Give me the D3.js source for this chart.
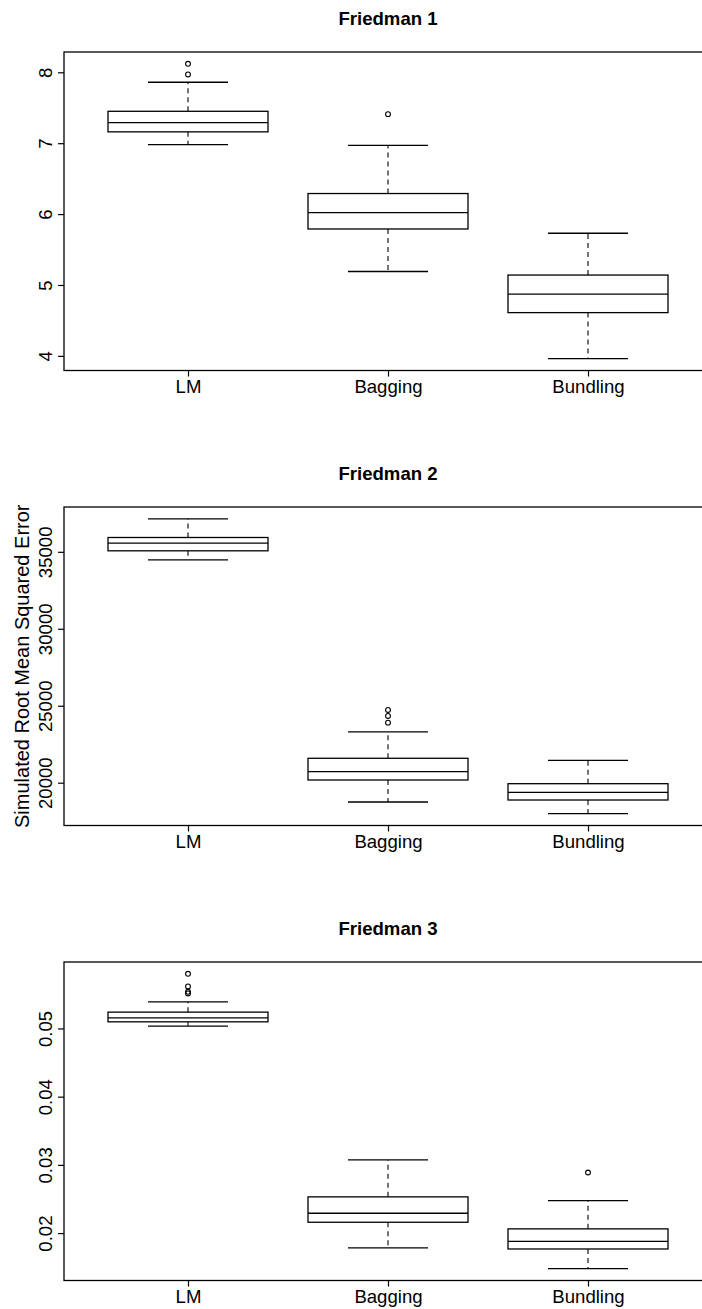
<!DOCTYPE html>
<html>
<head>
<meta charset="utf-8">
<script src="https://cdn.jsdelivr.net/npm/d3@7"></script>
<style>
  body { margin: 0; background: #fff; }
  svg { display: block; }
  text { font-family: "Liberation Sans", Arial, sans-serif; fill: #000; }
</style>
</head>
<body>
<div id="VizBox"></div>
<script>
// categories and titles
var groups = ["LM", "Bagging", "Bundling"];
var titles = ["Friedman 1", "Friedman 2", "Friedman 3"];

// box stats per group: [lower whisker, Q1, median, Q3, upper whisker]
var f1Stats = [[6.98, 7.16, 7.29, 7.45, 7.86], [5.19, 5.79, 6.02, 6.29, 6.97], [3.96, 4.61, 4.87, 5.14, 5.73]];
var f1Outliers = [[8.12, 7.97], [7.41], []];
var f1Ticks = [4, 5, 6, 7, 8];

var f2Stats = [[34480, 35065, 35565, 35930, 37145], [18745, 20175, 20715, 21586, 23295], [17985, 18875, 19376, 19935, 21456]];
var f2Outliers = [[], [24725, 24335, 23900], []];
var f2Ticks = [20000, 25000, 30000, 35000];

var f3Stats = [[0.05034, 0.05097, 0.05156, 0.05239, 0.0539], [0.01782, 0.02159, 0.02291, 0.02531, 0.03073], [0.01478, 0.01767, 0.0188, 0.02062, 0.02477]];
var f3Outliers = [[0.05801, 0.05616, 0.05537, 0.05513], [], [0.02888]];
var f3Ticks = [0.02, 0.03, 0.04, 0.05];

var yLabel = "Simulated Root Mean Squared Error";

var W = 702, H = 1309;
var fs = 18.6;
var plotLeft = 64, plotRight = 712;
var panelTops = [52, 507, 962];
var plotH = 318.5;

var svg = d3.select("#VizBox")
.append("svg")
  .attr("width", W)
  .attr("height", H);

// x positions 1..n, R style limits 0.5..n+0.5 extended 4%
var n = groups.length;
var x = d3.scaleLinear()
  .domain([0.5 - 0.04 * n, n + 0.5 + 0.04 * n])
  .range([plotLeft, plotRight]);
var boxW = x(1.4) - x(0.6);
var capW = boxW / 2;

var panels = [
  {stats: f1Stats, outliers: f1Outliers, ticks: f1Ticks},
  {stats: f2Stats, outliers: f2Outliers, ticks: f2Ticks},
  {stats: f3Stats, outliers: f3Outliers, ticks: f3Ticks}
];

panels.forEach(function(p, k) {
  var top = panelTops[k], bottom = top + plotH;
  var all = [];
  p.stats.forEach(function(s) { all = all.concat(s); });
  p.outliers.forEach(function(o) { all = all.concat(o); });
  var lo = d3.min(all), hi = d3.max(all), ext = (hi - lo) * 0.04;
  var y = d3.scaleLinear().domain([lo - ext, hi + ext]).range([bottom, top]);

  var g = svg.append("g");

  // title
  g.append("text")
    .attr("x", (plotLeft + plotRight) / 2)
    .attr("y", top - 27)
    .attr("text-anchor", "middle")
    .attr("font-weight", "bold")
    .attr("font-size", fs)
    .text(titles[k]);

  // frame
  g.append("rect")
    .attr("x", plotLeft).attr("y", top)
    .attr("width", plotRight - plotLeft).attr("height", plotH)
    .attr("fill", "none").attr("stroke", "#000").attr("stroke-width", 1.3);

  // y axis
  var yAxis = g.append("g")
    .attr("transform", "translate(" + plotLeft + ",0)")
    .call(d3.axisLeft(y).tickValues(p.ticks).tickSize(6).tickFormat(function(d) { return String(d); }));
  yAxis.select(".domain").remove();
  yAxis.selectAll("line").attr("stroke", "#000").attr("stroke-width", 1.2);
  yAxis.selectAll("text")
    .attr("x", null).attr("dy", null)
    .attr("text-anchor", "middle")
    .attr("font-size", fs)
    .attr("font-family", "Liberation Sans, Arial, sans-serif")
    .attr("transform", function(d) { return "translate(-12,0) rotate(-90)"; });

  // x axis
  var xAxis = g.append("g")
    .attr("transform", "translate(0," + bottom + ")")
    .call(d3.axisBottom(x).tickValues(d3.range(1, n + 1)).tickSize(6)
      .tickFormat(function(d) { return groups[d - 1]; }));
  xAxis.select(".domain").remove();
  xAxis.selectAll("line").attr("stroke", "#000").attr("stroke-width", 1.2);
  xAxis.selectAll("text")
    .attr("y", 22).attr("dy", null)
    .attr("font-size", fs)
    .attr("font-family", "Liberation Sans, Arial, sans-serif");

  // boxes
  p.stats.forEach(function(s, i) {
    var cx = x(i + 1);
    var bg = g.append("g").attr("stroke", "#000").attr("stroke-width", 1.3).attr("fill", "none");
    // whiskers
    bg.append("line").attr("x1", cx).attr("x2", cx).attr("y1", y(s[3])).attr("y2", y(s[4]))
      .attr("stroke-dasharray", "5,4").attr("stroke-width", 1.1);
    bg.append("line").attr("x1", cx).attr("x2", cx).attr("y1", y(s[1])).attr("y2", y(s[0]))
      .attr("stroke-dasharray", "5,4").attr("stroke-width", 1.1);
    // caps
    bg.append("line").attr("x1", cx - capW / 2).attr("x2", cx + capW / 2).attr("y1", y(s[4])).attr("y2", y(s[4]));
    bg.append("line").attr("x1", cx - capW / 2).attr("x2", cx + capW / 2).attr("y1", y(s[0])).attr("y2", y(s[0]));
    // box
    bg.append("rect")
      .attr("x", cx - boxW / 2).attr("y", y(s[3]))
      .attr("width", boxW).attr("height", y(s[1]) - y(s[3]))
      .attr("fill", "#fff");
    // median
    bg.append("line").attr("x1", cx - boxW / 2).attr("x2", cx + boxW / 2).attr("y1", y(s[2])).attr("y2", y(s[2]));
    // outliers
    bg.selectAll("circle")
      .data(p.outliers[i])
      .enter()
      .append("circle")
      .attr("cx", cx)
      .attr("cy", function(d) { return y(d); })
      .attr("r", 2.4)
      .attr("stroke-width", 1.1);
  });
});

// shared y label
svg.append("text")
  .attr("transform", "translate(29," + (panelTops[1] + plotH / 2) + ") rotate(-90)")
  .attr("text-anchor", "middle")
  .attr("font-size", 20)
  .text(yLabel);
</script>
</body>
</html>
